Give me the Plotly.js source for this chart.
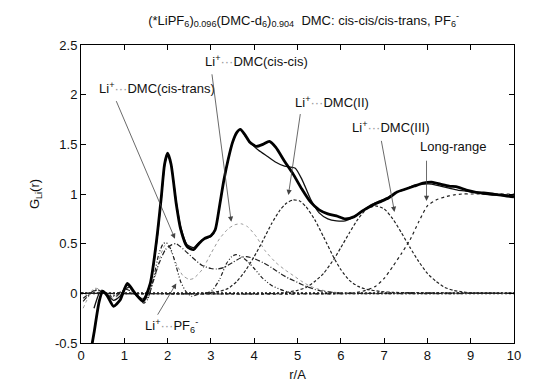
<!DOCTYPE html>
<html><head><meta charset="utf-8">
<script src="https://cdn.plot.ly/plotly-3.0.1.min.js"></script>
<style>html,body{margin:0;padding:0;background:#fff}#c{width:552px;height:387px}</style>
</head><body><div id="c"></div>
<script>
// Total G_Li(r), experiment (thick)
const rExp = [0.22,0.3,0.42,0.5,0.6,0.75,0.9,1.07,1.25,1.43,1.6,1.75,1.85,1.93,2.0,2.08,2.2,2.3,2.45,2.6,2.72,2.85,3.0,3.1,3.2,3.3,3.4,3.5,3.6,3.68,3.78,3.9,4.05,4.2,4.35,4.5,4.7,4.9,5.1,5.3,5.5,5.7,5.9,6.1,6.3,6.5,6.7,6.9,7.1,7.3,7.5,7.7,7.9,8.1,8.3,8.5,8.7,8.9,9.1,9.3,9.5,9.7,10];
const gExp = [-0.6,-0.4,-0.08,0.02,-0.02,-0.13,-0.07,0.1,0.0,-0.08,0.1,0.55,0.95,1.3,1.41,1.3,0.9,0.65,0.47,0.44,0.5,0.55,0.58,0.64,0.88,1.14,1.35,1.52,1.62,1.65,1.6,1.52,1.48,1.5,1.53,1.47,1.33,1.2,1.05,0.92,0.84,0.8,0.78,0.75,0.77,0.83,0.88,0.92,0.96,1.02,1.05,1.08,1.11,1.12,1.1,1.08,1.07,1.04,1.02,1.01,1.0,0.99,0.97];
// Total G_Li(r), model (thin)
const rFit = [0.3,0.42,0.5,0.75,0.9,1.07,1.25,1.43,1.6,1.75,1.85,1.93,2.0,2.08,2.2,2.3,2.45,2.6,2.72,2.85,3.0,3.1,3.2,3.3,3.4,3.5,3.6,3.68,3.8,3.95,4.1,4.3,4.5,4.7,4.85,4.95,5.1,5.3,5.5,5.7,5.9,6.1,6.3,6.5,6.7,6.9,7.1,7.3,7.5,7.7,7.9,8.1,8.3,8.5,8.7,8.9,9.1,9.3,9.5,9.7,10];
const gFit = [-0.15,0.0,0.03,-0.07,-0.03,0.08,0.0,-0.06,0.1,0.52,0.93,1.28,1.4,1.3,0.92,0.67,0.49,0.46,0.51,0.55,0.57,0.64,0.88,1.14,1.35,1.52,1.62,1.65,1.58,1.5,1.44,1.38,1.32,1.28,1.27,1.26,1.15,0.95,0.81,0.75,0.73,0.73,0.77,0.83,0.89,0.93,0.97,1.02,1.05,1.09,1.1,1.1,1.08,1.06,1.04,1.03,1.02,1.0,0.99,0.99,0.98];
// Li+...DMC(cis-cis)
const rCC = [0.05,0.3,0.5,0.75,1.1,1.4,1.55,1.7,1.85,1.95,2.05,2.2,2.35,2.5,2.6,2.8,3.0,3.2,3.4,3.55,3.7,3.85,4.05,4.25,4.5,4.7,4.9,5.1,5.3,5.5,5.7,6.0,6.5,10];
const gCC = [-0.15,0.05,0.03,-0.05,0.05,-0.06,0.0,0.15,0.4,0.49,0.45,0.3,0.18,0.14,0.15,0.24,0.4,0.55,0.65,0.69,0.7,0.67,0.57,0.43,0.31,0.24,0.18,0.12,0.07,0.04,0.02,0.005,0,0];
// Li+...DMC(cis-trans)
const rCT = [0.05,0.35,0.7,1.05,1.4,1.55,1.65,1.8,1.95,2.1,2.2,2.4,2.6,2.8,3.0,3.14,3.3,3.5,3.7,3.82,4.0,4.2,4.4,4.6,4.8,5.0,5.2,5.4,5.6,5.9,6.2,10];
const gCT = [-0.08,0.04,-0.03,0.04,-0.05,-0.04,0.1,0.3,0.44,0.49,0.5,0.43,0.35,0.28,0.25,0.245,0.26,0.31,0.36,0.37,0.35,0.31,0.26,0.2,0.15,0.11,0.07,0.04,0.02,0.005,0,0];
// Li+...PF6-
const rPF = [0.05,0.35,0.8,1.1,1.45,1.55,1.65,1.8,1.9,1.97,2.08,2.2,2.3,2.42,2.55,2.7,2.9,3.05,3.2,3.36,3.48,3.58,3.7,3.85,4.0,4.2,4.4,4.6,4.8,5.0,10];
const gPF = [-0.05,0.03,-0.03,0.06,-0.1,-0.05,0.1,0.4,0.5,0.51,0.44,0.27,0.12,0.02,-0.03,-0.01,0.0,0.04,0.14,0.3,0.37,0.39,0.37,0.32,0.25,0.15,0.08,0.04,0.01,0.0,0.0];
// Li+...DMC(II)
const rD2 = [0,2.8,3.0,3.2,3.4,3.6,3.8,4.0,4.2,4.4,4.6,4.75,4.9,5.05,5.2,5.4,5.6,5.85,6.0,6.2,6.4,6.6,6.9,7.2,10];
const gD2 = [0,0,0.01,0.02,0.05,0.12,0.23,0.37,0.53,0.7,0.84,0.91,0.94,0.93,0.87,0.74,0.57,0.35,0.24,0.13,0.07,0.04,0.02,0.01,0];
// Li+...DMC(III)
const rD3 = [0,4.6,4.8,5.0,5.2,5.4,5.6,5.85,6.0,6.2,6.4,6.6,6.8,7.0,7.2,7.4,7.6,7.8,8.0,8.2,8.4,8.6,8.8,9.0,10];
const gD3 = [0,0,0.015,0.03,0.06,0.12,0.2,0.35,0.46,0.61,0.75,0.85,0.88,0.85,0.75,0.61,0.46,0.32,0.2,0.12,0.06,0.03,0.015,0.005,0];
// Long-range
const rLR = [0,6.2,6.5,6.8,7.0,7.2,7.4,7.6,7.8,8.0,8.2,8.4,8.6,8.8,9.0,10];
const gLR = [0,0,0.02,0.07,0.15,0.27,0.4,0.54,0.72,0.88,0.94,0.97,0.99,1.0,1.0,1.0];
// zero baseline
const rZero = [0,10];
const gZero = [0,0];

const F = 'Liberation Sans, Arial, sans-serif';
const dots = "<span style='color:#999'>···</span>";
const labels = [
  {t:'Li<sup>+</sup>'+dots+'DMC(cis-trans)', x:1.75, y:2.07},
  {t:'Li<sup>+</sup>'+dots+'DMC(cis-cis)', x:4.05, y:2.34},
  {t:'Li<sup>+</sup>'+dots+'DMC(II)', x:5.8, y:1.93},
  {t:'Li<sup>+</sup>'+dots+'DMC(III)', x:7.15, y:1.67},
  {t:'Long-range', x:8.6, y:1.48},
  {t:'Li<sup>+</sup>'+dots+'PF<sub>6</sub><sup>-</sup>', x:2.1, y:-0.33}
];
const arrows = [
  {x:2.17, y:0.55, ax:0.8, ay:1.95},
  {x:3.47, y:0.72, ax:3.02, ay:2.22},
  {x:4.79, y:0.99, ax:5.07, ay:1.82},
  {x:7.24, y:0.82, ax:6.93, ay:1.55},
  {x:7.98, y:0.93, ax:7.98, ay:1.35},
  {x:2.2, y:0.1, ax:1.75, ay:-0.23}
];

const sp = {shape:'spline', smoothing:0.6};
const traces = [
  {x:rZero, y:gZero, mode:'lines', line:{color:'#111', width:2, dash:'2px,2px'}},
  {x:rLR, y:gLR, mode:'lines', line:Object.assign({color:'#222', width:1.2, dash:'dot'}, sp)},
  {x:rD3, y:gD3, mode:'lines', line:Object.assign({color:'#222', width:1.2, dash:'3px,2px'}, sp)},
  {x:rD2, y:gD2, mode:'lines', line:Object.assign({color:'#222', width:1.2, dash:'3px,2px'}, sp)},
  {x:rCC, y:gCC, mode:'lines', line:Object.assign({color:'#999', width:1, dash:'dot'}, sp)},
  {x:rCT, y:gCT, mode:'lines', line:Object.assign({color:'#222', width:1.2, dash:'5px,2px,1px,2px'}, sp)},
  {x:rPF, y:gPF, mode:'lines', line:Object.assign({color:'#222', width:1.2, dash:'4px,2px,1px,2px,1px,2px'}, sp)},
  {x:rFit, y:gFit, mode:'lines', line:Object.assign({color:'#111', width:1.3}, sp)},
  {x:rExp, y:gExp, mode:'lines', line:Object.assign({color:'#000', width:2.8}, sp)}
];

const ann = [];
labels.forEach(l => ann.push({x:l.x, y:l.y, xref:'x', yref:'y', text:l.t, showarrow:false,
  font:{family:F, size:13, color:'#111'}}));
arrows.forEach(a => ann.push({x:a.x, y:a.y, ax:a.ax, ay:a.ay, xref:'x', yref:'y', axref:'x', ayref:'y',
  text:'', showarrow:true, arrowhead:2, arrowsize:1.3, arrowwidth:0.8, arrowcolor:'#444', standoff:0, startstandoff:0}));

const layout = {
  width:552, height:387,
  margin:{l:81, r:38, t:45, b:44},
  paper_bgcolor:'#fff', plot_bgcolor:'#fff',
  showlegend:false,
  font:{family:F, size:13, color:'#111'},
  title:{text:'(*LiPF<sub>6</sub>)<sub>0.096</sub>(DMC-d<sub>6</sub>)<sub>0.904</sub>  DMC: cis-cis/cis-trans, PF<sub>6</sub><sup>-</sup>',
    x:0.55, xanchor:'center', y:0.948, yanchor:'middle', font:{family:F, size:13, color:'#111'}},
  xaxis:{range:[0,10], tickvals:[0,1,2,3,4,5,6,7,8,9,10], ticks:'inside', ticklen:5, tickcolor:'#000',
    showline:true, linecolor:'#000', linewidth:1, mirror:'ticks', showgrid:false, zeroline:false,
    title:{text:'r/A', standoff:8, font:{family:F, size:13}}, tickfont:{family:F, size:13}},
  yaxis:{range:[-0.5,2.5], tickvals:[-0.5,0,0.5,1,1.5,2,2.5], ticktext:['-0.5','0','0.5','1','1.5','2','2.5'],
    ticks:'inside', ticklen:5, tickcolor:'#000',
    showline:true, linecolor:'#000', linewidth:1, mirror:'ticks', showgrid:false, zeroline:false,
    title:{text:'G<sub>Li</sub>(r)', standoff:12, font:{family:F, size:13}}, tickfont:{family:F, size:13}},
  annotations:ann
};
Plotly.newPlot('c', traces, layout, {staticPlot:true, displayModeBar:false});
</script></body></html>
